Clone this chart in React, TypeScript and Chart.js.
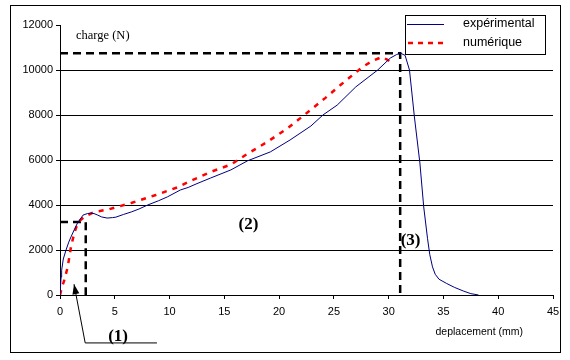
import React, { useEffect, useRef } from "react";
import { Chart, registerables } from "chart.js";

Chart.register(...registerables);

// ---- data ----
const seriesNames = ["expérimental", "numérique"];
const yTitle = "charge (N)";
const xTitle = "deplacement (mm)";

const expX = [0, 0.1, 0.15, 0.3, 0.55, 0.8, 1.0, 1.3, 1.6, 2.1, 2.5, 2.8, 3.1, 3.4, 3.8, 4.3, 4.8, 5.1, 5.8, 6.5, 7.2, 8.0, 9.0, 9.8, 11.0, 11.7, 12.5, 13.75, 15.6, 17.1, 19.2, 21.0, 22.9, 24.0, 25.3, 27.0, 29.0, 30.15, 30.7, 31.05, 31.5, 31.9, 32.35, 32.85, 33.2, 33.55, 33.75, 34.0, 34.25, 34.6, 35.3, 36.0, 36.8, 37.5, 38.2];
const expY = [0, 800, 1100, 1600, 2000, 2350, 2580, 2900, 3200, 3550, 3620, 3640, 3620, 3560, 3470, 3420, 3440, 3460, 3580, 3690, 3820, 4000, 4190, 4360, 4670, 4780, 4950, 5200, 5560, 5960, 6360, 6890, 7510, 8000, 8440, 9250, 10000, 10530, 10680, 10756, 10650, 10000, 7910, 5870, 3910, 2500, 1800, 1250, 920, 700, 510, 340, 180, 60, 0];

const numX = [0, 0.15, 0.4, 0.7, 1.0, 1.3, 1.65, 2.2, 3.1, 4.4, 6.5, 8.6, 10.7, 11.7, 12.7, 13.75, 15.6, 17.1, 18.9, 20.8, 22.4, 24.2, 25.6, 27.6, 28.5, 29.0, 29.4, 29.9, 30.3];
const numY = [0, 300, 670, 1240, 2130, 2750, 3240, 3470, 3690, 3800, 4090, 4420, 4780, 5020, 5240, 5470, 5800, 6270, 6800, 7420, 8040, 8750, 9330, 10130, 10400, 10500, 10580, 10450, 10300];

// guide (dashed) lines: zone (1) and peak (3)
const guide1X = [0, 2.35, 2.35];
const guide1Y = [3250, 3250, 0];
const guide3X = [0, 31.05, 31.05];
const guide3Y = [10750, 10750, 0];

// zone labels (data coordinates)
const zoneLabels = ["(1)", "(2)", "(3)"];
const zoneX = [5.3, 17.2, 32.0];
const zoneY = [-1850, 3110, 2400];
// leader of label (1): tip, elbow, end
const leaderX = [1.28, 2.3, 8.85];
const leaderY = [480, -2130, -2130];

const toPts = (xs: number[], ys: number[]) => xs.map((x, i) => ({ x, y: ys[i] }));

const SANS = '"Liberation Sans", Arial, sans-serif';
const SERIF = '"Liberation Serif", "Times New Roman", serif';

const decor = {
  id: "decor",
  beforeDraw(chart: any) {
    const ctx = chart.ctx;
    ctx.save();
    ctx.fillStyle = "#fff";
    ctx.fillRect(0, 0, chart.width, chart.height);
    ctx.restore();
  },
  afterDraw(chart: any) {
    const ctx = chart.ctx;
    const xs = chart.scales.x;
    const ys = chart.scales.y;
    const area = chart.chartArea;
    ctx.save();
    // outer frame
    ctx.strokeStyle = "#000";
    ctx.lineWidth = 1;
    ctx.setLineDash([]);
    ctx.strokeRect(10.5, 5.5, 550, 347);

    // axis titles
    ctx.fillStyle = "#000";
    ctx.textBaseline = "middle";
    ctx.textAlign = "left";
    ctx.font = "12.5px " + SERIF;
    ctx.fillText(yTitle, area.left + 16, area.top + 11);
    ctx.font = "10.5px " + SANS;
    ctx.textAlign = "right";
    ctx.fillText(xTitle, area.right - 30, 332);

    // legend
    const lx = 405.5, ly = 15.5, lw = 140, lh = 39;
    ctx.fillStyle = "#fff";
    ctx.fillRect(lx, ly, lw, lh);
    ctx.strokeStyle = "#000";
    ctx.strokeRect(lx, ly, lw, lh);
    ctx.beginPath();
    ctx.strokeStyle = "#000080";
    ctx.lineWidth = 1;
    ctx.moveTo(407, 24.5);
    ctx.lineTo(444, 24.5);
    ctx.stroke();
    ctx.beginPath();
    ctx.strokeStyle = "#ff0000";
    ctx.lineWidth = 2.5;
    ctx.setLineDash([5, 5]);
    ctx.moveTo(408, 43);
    ctx.lineTo(444, 43);
    ctx.stroke();
    ctx.setLineDash([]);
    ctx.fillStyle = "#000";
    ctx.textAlign = "left";
    ctx.font = "12.5px " + SANS;
    ctx.fillText(seriesNames[0], 463, 24);
    ctx.fillText(seriesNames[1], 463, 43);

    // zone labels
    ctx.font = "bold 17px " + SERIF;
    ctx.textAlign = "center";
    zoneLabels.forEach((t, i) => {
      ctx.fillText(t, xs.getPixelForValue(zoneX[i]), ys.getPixelForValue(zoneY[i]));
    });

    // leader with arrow for (1)
    const px = leaderX.map((v) => xs.getPixelForValue(v));
    const py = leaderY.map((v) => ys.getPixelForValue(v));
    ctx.strokeStyle = "#000";
    ctx.lineWidth = 1;
    ctx.beginPath();
    ctx.moveTo(px[0], py[0]);
    ctx.lineTo(px[1], py[1]);
    ctx.lineTo(px[2], py[2]);
    ctx.stroke();
    const ang = Math.atan2(py[0] - py[1], px[0] - px[1]);
    const L = 10, W = 3.5;
    const bx = px[0] - L * Math.cos(ang), by = py[0] - L * Math.sin(ang);
    ctx.beginPath();
    ctx.moveTo(px[0], py[0]);
    ctx.lineTo(bx + W * Math.sin(ang), by - W * Math.cos(ang));
    ctx.lineTo(bx - W * Math.sin(ang), by + W * Math.cos(ang));
    ctx.closePath();
    ctx.fillStyle = "#000";
    ctx.fill();
    ctx.restore();
  },
};

export default function App() {
  const ref = useRef<HTMLCanvasElement>(null);
  useEffect(() => {
    if (!ref.current) return;
    const guideStyle = {
      borderColor: "#000",
      borderWidth: 2.5,
      borderDash: [8, 5],
      pointRadius: 0,
      fill: false,
      tension: 0,
    };
    const chart = new Chart(ref.current, {
      type: "line",
      data: {
        datasets: [
          {
            label: seriesNames[0],
            data: toPts(expX, expY),
            borderColor: "#000080",
            borderWidth: 1,
            pointRadius: 0,
            tension: 0,
            fill: false,
          },
          {
            label: seriesNames[1],
            data: toPts(numX, numY),
            borderColor: "#ff0000",
            borderWidth: 2.5,
            borderDash: [5, 6],
            pointRadius: 0,
            tension: 0,
            fill: false,
          },
          { label: "g1", data: toPts(guide1X, guide1Y), ...guideStyle },
          { label: "g3", data: toPts(guide3X, guide3Y), ...guideStyle },
        ],
      },
      options: {
        responsive: false,
        animation: false,
        layout: { padding: { left: 0, top: 25, right: 17, bottom: 0 } },
        plugins: { legend: { display: false }, tooltip: { enabled: false } },
        scales: {
          x: {
            type: "linear",
            min: 0,
            max: 45,
            ticks: {
              stepSize: 5,
              color: "#000",
              font: { family: SANS, size: 11 },
              padding: 6,
              maxRotation: 0,
              callback: (v: any) => String(v),
            },
            grid: { drawOnChartArea: false, tickColor: "#000", tickLength: 4 },
            border: { color: "#000", width: 1 },
            afterFit: (s: any) => {
              s.height = 65;
            },
          },
          y: {
            type: "linear",
            min: 0,
            max: 12000,
            ticks: {
              stepSize: 2000,
              color: "#000",
              font: { family: SANS, size: 11 },
              padding: 3,
              callback: (v: any) => String(v),
            },
            grid: {
              color: (c: any) =>
                c.tick && (c.tick.value === 0 || c.tick.value === 12000) ? "rgba(0,0,0,0)" : "#000",
              tickColor: "#000",
              tickLength: 4,
              lineWidth: 1,
            },
            border: { color: "#000", width: 1 },
            afterFit: (s: any) => {
              s.width = 60;
            },
          },
        },
      },
      plugins: [decor],
    } as any);
    return () => chart.destroy();
  }, []);
  return (
    <div style={{ position: "absolute", left: 0, top: 0, width: 570, height: 360 }}>
      <canvas ref={ref} width={570} height={360} style={{ width: 570, height: 360 }} />
    </div>
  );
}
